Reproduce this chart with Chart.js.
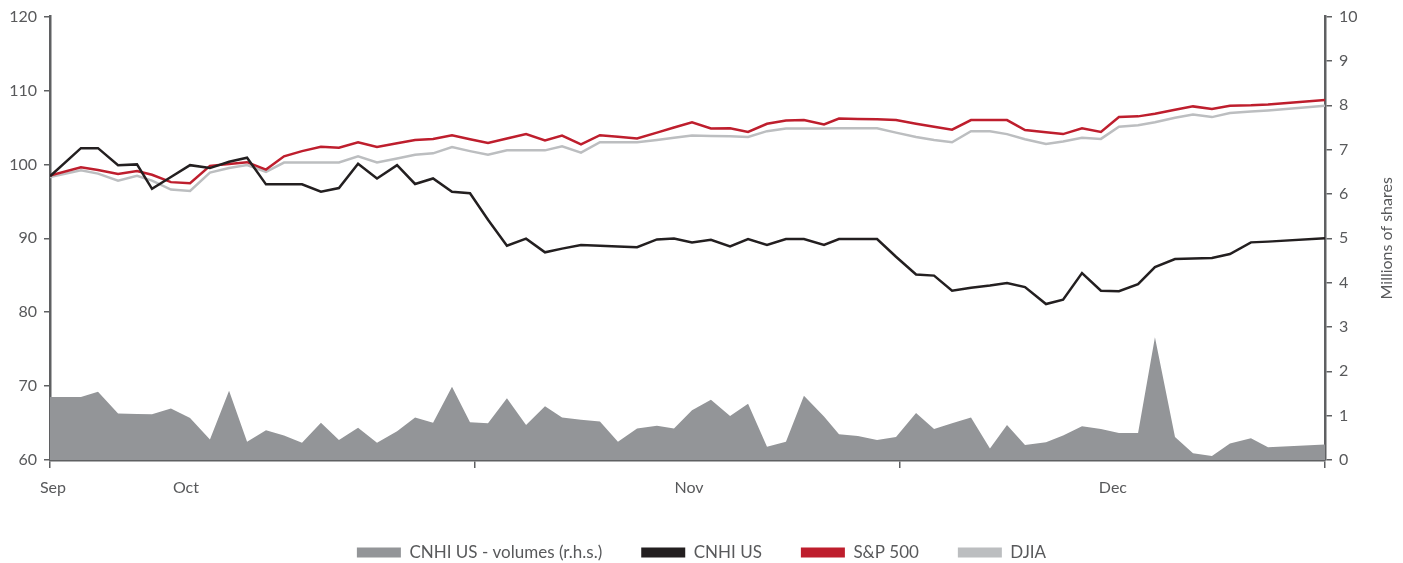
<!DOCTYPE html>
<html>
<head>
<meta charset="utf-8">
<script src="https://cdn.jsdelivr.net/npm/chart.js@4.4.1/dist/chart.umd.min.js"></script>
<style>
  html, body { margin: 0; padding: 0; background: #ffffff; overflow: hidden; }
  #wrap { width: 1403px; height: 563px; position: relative; }
</style>
</head>
<body>
<div id="wrap"><canvas id="chart" width="1403" height="563"></canvas></div>
<script>
// Trading-session position of each observation along the period (Sep - Dec)
const sessions = [
  0, 1.65, 2.56, 3.63, 4.64, 5.44, 6.45, 7.47, 8.53, 9.55,
  10.51, 11.52, 12.48, 13.44, 14.45, 15.41, 16.43, 17.44, 18.51, 19.47,
  20.43, 21.44, 22.40, 23.36, 24.37, 25.39, 26.40, 27.31, 28.32, 29.33,
  30.29, 31.31, 32.37, 33.28, 34.24, 35.25, 36.27, 37.23, 38.24, 39.25,
  40.21, 41.28, 42.08, 43.09, 44.11, 45.12, 46.19, 47.15, 48.11, 49.12,
  50.13, 51.04, 52.00, 53.12, 54.03, 55.04, 56.05, 57.01, 58.03, 58.93,
  60.00, 60.96, 61.97, 62.93, 64.05, 64.96, 68
];

// CNHI US daily volumes, millions of shares (right-hand scale)
const cnhiVolumes = [
  1.42, 1.42, 1.54, 1.05, 1.04, 1.03, 1.16, 0.95, 0.46, 1.56,
  0.41, 0.67, 0.55, 0.39, 0.84, 0.45, 0.73, 0.39, 0.65, 0.96,
  0.84, 1.65, 0.85, 0.83, 1.39, 0.79, 1.21, 0.96, 0.91, 0.87,
  0.41, 0.71, 0.77, 0.71, 1.12, 1.36, 0.99, 1.27, 0.30, 0.41,
  1.45, 0.98, 0.58, 0.54, 0.45, 0.52, 1.06, 0.70, 0.83, 0.96,
  0.26, 0.79, 0.34, 0.40, 0.55, 0.76, 0.70, 0.61, 0.61, 2.77,
  0.52, 0.15, 0.09, 0.37, 0.49, 0.29, 0.35
];

// Rebased price performance (left-hand scale)
const cnhiUS = [
  98.4, 102.2, 102.2, 99.9, 100.0, 96.7, 98.3, 99.9, 99.5, 100.35,
  100.9, 97.3, 97.3, 97.3, 96.3, 96.8, 100.1, 98.1, 99.9, 97.35,
  98.1, 96.3, 96.1, 92.5, 89.0, 89.95, 88.1, 88.6, 89.1, 89.0,
  88.9, 88.8, 89.85, 89.97, 89.45, 89.8, 88.9, 89.9, 89.1, 89.9,
  89.9, 89.1, 89.9, 89.9, 89.9, 87.5, 85.1, 84.95, 82.9, 83.3,
  83.6, 83.95, 83.4, 81.1, 81.7, 85.3, 82.9, 82.85, 83.8, 86.1,
  87.2, 87.25, 87.33, 87.87, 89.45, 89.55, 90.0
];

const sp500 = [
  98.5, 99.6, 99.25, 98.7, 99.1, 98.6, 97.6, 97.45, 99.8, 100.05,
  100.3, 99.3, 101.1, 101.8, 102.4, 102.25, 103.0, 102.35, 102.85, 103.3,
  103.45, 103.95, 103.4, 102.9, 103.5, 104.1, 103.25, 103.9, 102.7, 103.95,
  103.75, 103.5, 104.3, 105.0, 105.7, 104.85, 104.9, 104.4, 105.5, 105.95,
  106.0, 105.4, 106.2, 106.15, 106.1, 106.0, 105.5, 105.1, 104.7, 106.0,
  106.0, 106.0, 104.65, 104.35, 104.1, 104.9, 104.4, 106.4, 106.5, 106.85,
  107.4, 107.85, 107.5, 107.95, 108.0, 108.1, 108.7
];

const djia = [
  98.3, 99.2, 98.75, 97.8, 98.45, 97.8, 96.6, 96.4, 98.9, 99.5,
  99.9, 99.0, 100.25, 100.25, 100.25, 100.25, 101.1, 100.25, 100.8, 101.3,
  101.5, 102.35, 101.8, 101.3, 101.9, 101.9, 101.9, 102.45, 101.6, 103.0,
  103.0, 103.0, 103.3, 103.6, 103.9, 103.85, 103.8, 103.7, 104.5, 104.85,
  104.85, 104.87, 104.88, 104.9, 104.9, 104.3, 103.7, 103.3, 103.0, 104.5,
  104.5, 104.1, 103.4, 102.75, 103.1, 103.6, 103.45, 105.1, 105.3, 105.7,
  106.3, 106.75, 106.4, 106.95, 107.15, 107.3, 107.95
];

// Month labels and where each sits along the session axis
const monthLabels = ['Sep', 'Oct', 'Nov', 'Dec'];
const monthPositions = [0.16, 7.25, 34.08, 56.69];
// Period divisions marked on the time axis
const periodTicks = [0, 22.667, 45.333, 68];

const seriesNames = ['CNHI US - volumes (r.h.s.)', 'CNHI US', 'S&P 500', 'DJIA'];
const rightAxisTitle = 'Millions of shares';

const FONT = 'Lato, "Open Sans", sans-serif';
const TEXT = '#58595b';
const AXIS = '#5f6062';
const VOLUME = '#939598';
const BLACK = '#231f20';
const RED = '#be1e2d';
const LIGHT = '#bcbec0';

const toPoints = values => values.map((v, i) => ({ x: sessions[i], y: v }));

// Right-axis title, reading bottom to top
const shareAxisTitle = {
  id: 'shareAxisTitle',
  afterDraw(chart) {
    const s = chart.scales.y1;
    const c = chart.ctx;
    c.save();
    c.translate(s.right - 11, (s.top + s.bottom) / 2);
    c.rotate(-Math.PI / 2);
    c.font = '16px ' + FONT;
    c.fillStyle = TEXT;
    c.textAlign = 'center';
    c.textBaseline = 'alphabetic';
    c.fillText(rightAxisTitle, 0, 0);
    c.restore();
  }
};

const lineSet = (label, values, color) => ({
  label,
  data: toPoints(values),
  yAxisID: 'y',
  borderColor: color,
  backgroundColor: color,
  borderWidth: 2.5,
  pointRadius: 0,
  fill: false,
  tension: 0
});

new Chart(document.getElementById('chart'), {
  type: 'line',
  data: {
    datasets: [
      {
        label: seriesNames[0],
        data: toPoints(cnhiVolumes),
        yAxisID: 'y1',
        borderColor: VOLUME,
        backgroundColor: VOLUME,
        borderWidth: 0,
        pointRadius: 0,
        fill: 'origin',
        tension: 0
      },
      lineSet(seriesNames[1], cnhiUS, BLACK),
      lineSet(seriesNames[2], sp500, RED),
      lineSet(seriesNames[3], djia, LIGHT)
    ]
  },
  options: {
    responsive: false,
    animation: false,
    devicePixelRatio: 1,
    layout: { padding: { top: 15, left: 0, right: 0, bottom: -8 } },
    plugins: {
      tooltip: { enabled: false },
      legend: {
        position: 'bottom',
        labels: {
          boxWidth: 44,
          boxHeight: 10,
          padding: 39,
          color: TEXT,
          font: { family: FONT, size: 17 },
          generateLabels(chart) {
            const items = Chart.defaults.plugins.legend.labels.generateLabels(chart);
            items.forEach(item => { item.lineWidth = 0; });
            return items;
          }
        }
      }
    },
    scales: {
      x: {
        type: 'linear',
        min: 0,
        max: 68,
        z: 1,
        border: { color: AXIS, width: 2.5 },
        grid: {
          drawOnChartArea: false,
          drawTicks: true,
          tickLength: 8,
          lineWidth: 1.5,
          tickColor: ctx => (ctx.tick && periodTicks.includes(ctx.tick.value)) ? AXIS : 'rgba(0,0,0,0)'
        },
        afterBuildTicks: scale => {
          scale.ticks = periodTicks.concat(monthPositions)
            .sort((a, b) => a - b)
            .map(v => ({ value: v }));
        },
        ticks: {
          autoSkip: false,
          maxRotation: 0,
          padding: 10,
          color: TEXT,
          font: { family: FONT, size: 16 },
          callback: value => {
            const i = monthPositions.indexOf(value);
            return i >= 0 ? monthLabels[i] : '';
          }
        },
        afterFit: scale => { scale.height = 45; }
      },
      y: {
        position: 'left',
        min: 60,
        max: 120,
        z: 1,
        border: { color: AXIS, width: 2.5 },
        grid: { drawOnChartArea: false, tickLength: 6, color: AXIS, lineWidth: 1.5 },
        ticks: { stepSize: 10, padding: 7, color: TEXT, font: { family: FONT, size: 16 } },
        afterFit: scale => { scale.width = 50; }
      },
      y1: {
        position: 'right',
        min: 0,
        max: 10,
        z: 1,
        border: { color: AXIS, width: 2.5 },
        grid: { drawOnChartArea: false, tickLength: 7, color: AXIS, lineWidth: 1.5 },
        ticks: { stepSize: 1, padding: 7, color: TEXT, font: { family: FONT, size: 16 } },
        afterFit: scale => { scale.width = 78; }
      }
    }
  },
  plugins: [shareAxisTitle]
});
</script>
</body>
</html>
